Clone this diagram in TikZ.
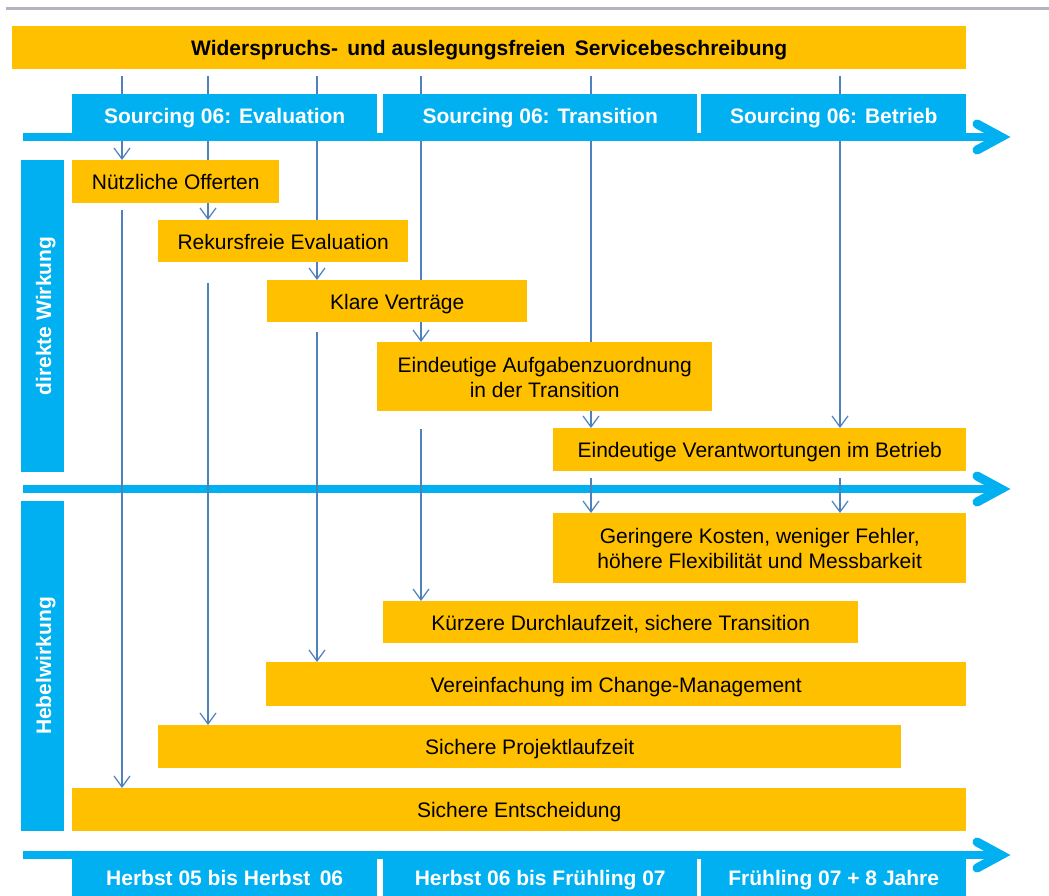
\documentclass[tikz,border=0pt]{standalone}
\usepackage{fontspec}
\setmainfont{Liberation Sans}
\usetikzlibrary{positioning,arrows.meta,calc}

\definecolor{amber}{HTML}{FFC000}
\definecolor{skyblue}{HTML}{00B0F0}
\definecolor{steel}{HTML}{4F81BD}
\definecolor{rulegray}{HTML}{B4B4BE}

\pgfdeclarelayer{axis}
\pgfdeclarelayer{links}
\pgfsetlayers{axis,links,main}

\begin{document}
\begin{tikzpicture}[
  x=1pt, y=-1pt,
  >={Straight Barb[length=11pt,width=16pt]},
  gbox/.style={fill=amber, anchor=north west, inner sep=0pt, align=center, text height=16.5pt, text depth=0pt, font=\fontsize{21}{25}\selectfont},
  twoline/.style={text height=41.5pt},
  bbox/.style={fill=skyblue, anchor=north west, inner sep=0pt, text=white, text depth=0pt, font=\fontsize{21}{25}\selectfont\bfseries},
  sidebox/.style={fill=skyblue, rotate=90, inner sep=0pt, minimum height=43pt, text height=17pt, text depth=0pt, text=white, font=\fontsize{21}{25}\selectfont\bfseries},
  effect/.style={->, draw=steel, line width=1.25pt},
  timeline/.style={draw=skyblue, line width=8pt},
  chevron/.style={draw=skyblue, line width=9pt, line cap=round, line join=miter}
]
  \useasboundingbox (0,0) rectangle (1049,896);
  \draw[rulegray, line width=3pt] (6,8.5) -- (1049,8.5);

  % middle and lower time axis
  \coordinate (t2s) at (23,489);
  \coordinate (t2e) at (1001,489);
  \coordinate (t3s) at (23,855);
  \coordinate (t3e) at (1001,855);
  \begin{pgfonlayer}{axis}
    \draw[timeline] (t2s) -- (t2e);
    \draw[chevron] ($(t2e)+(-24,-13)$) -- (t2e) -- ($(t2e)+(-24,13)$);
    \draw[timeline] (t3s) -- (t3e);
    \draw[chevron] ($(t3e)+(-24,-13)$) -- (t3e) -- ($(t3e)+(-24,13)$);
  \end{pgfonlayer}

  \node[sidebox, minimum width=312pt] (direkt) at (42.5,316) {direkte Wirkung};
  \node[sidebox, minimum width=330pt] (hebel) at (42.5,666) {Hebelwirkung};

  \node[gbox, minimum width=207pt, minimum height=43pt] (offerten) at (72,160) {Nützliche Offerten};
  \node[gbox, minimum width=250pt, minimum height=42pt] (rekurs) at (158,220) {Rekursfreie Evaluation};
  \node[gbox, minimum width=260pt, minimum height=42pt] (vertraege) at (267,280) {Klare Verträge};
  \node[gbox, twoline, minimum width=335pt, minimum height=69pt] (aufgaben) at (377,342) {Eindeutige Aufgabenzuordnung\\in der Transition};
  \node[gbox, minimum width=413pt, minimum height=43pt] (verantw) at (553,428) {Eindeutige Verantwortungen im Betrieb};
  \node[gbox, twoline, minimum width=413pt, minimum height=70pt] (kosten) at (553,513) {Geringere Kosten, weniger Fehler,\\höhere Flexibilität und Messbarkeit};
  \node[gbox, minimum width=475pt, minimum height=42pt] (durchlauf) at (383,601) {Kürzere Durchlaufzeit, sichere Transition};
  \node[gbox, minimum width=700pt, minimum height=44pt] (change) at (266,662) {Vereinfachung im Change-Management};
  \node[gbox, minimum width=743pt, minimum height=43pt] (projekt) at (158,725) {Sichere Projektlaufzeit};
  \node[gbox, minimum width=894pt, minimum height=43pt] (entscheid) at (72,788) {Sichere Entscheidung};

  \begin{pgfonlayer}{links}
    % effects coming from the service description
    \foreach \x/\n [count=\i] in {122/offerten, 208/rekurs, 317/vertraege, 421/aufgaben, 591/verantw, 840/verantw} {
      \coordinate (src\i) at (\x,76);
      \draw[effect] (src\i) -- (src\i |- \n.north);
    }
    % leverage effects further down
    \foreach \x/\y/\n [count=\i] in {122/210/entscheid, 208/283/projekt, 317/332/change, 421/429/durchlauf, 591/478/kosten, 840/478/kosten} {
      \coordinate (lev\i) at (\x,\y);
      \draw[effect] (lev\i) -- (lev\i |- \n.north);
    }
  \end{pgfonlayer}

  \node[gbox, minimum width=954pt, minimum height=43pt, text height=15pt, font=\fontsize{21}{25}\selectfont\bfseries] (leistung) at (12,26) {Widerspruchs-\, und auslegungsfreien\, Servicebeschreibung};

  % upper time axis with the three phases
  \coordinate (t1s) at (23,137);
  \coordinate (t1e) at (1001,137);
  \draw[timeline] (t1s) -- (t1e);
  \draw[chevron] ($(t1e)+(-24,-13)$) -- (t1e) -- ($(t1e)+(-24,13)$);
  \node[bbox, text height=20pt, minimum width=305pt, minimum height=39pt] (eval) at (72,94) {Sourcing 06: Evaluation};
  \node[bbox, text height=20pt, minimum width=314pt, minimum height=39pt] (trans) at (383,94) {Sourcing 06: Transition};
  \node[bbox, text height=20pt, minimum width=265pt, minimum height=39pt] (betrieb) at (701,94) {Sourcing 06: Betrieb};

  \node[bbox, text height=15pt, minimum width=305pt, minimum height=37pt] (per1) at (72,859) {Herbst 05 bis Herbst\, 06};
  \node[bbox, text height=15pt, minimum width=314pt, minimum height=37pt] (per2) at (383,859) {Herbst 06 bis Frühling 07};
  \node[bbox, text height=15pt, minimum width=265pt, minimum height=37pt] (per3) at (701,859) {Frühling 07 + 8 Jahre};
\end{tikzpicture}
\end{document}
